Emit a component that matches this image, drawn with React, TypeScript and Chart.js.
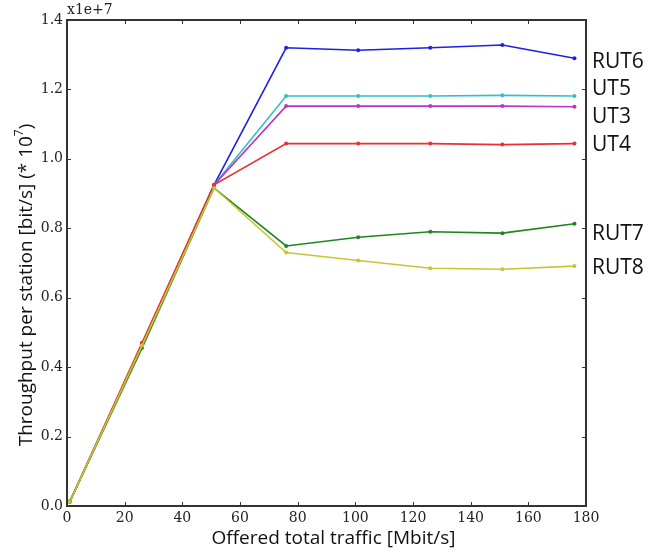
import React, { useEffect, useRef } from "react";
import { Chart, registerables } from "chart.js";
Chart.register(...registerables);

const offeredTraffic = [1, 26, 51, 76, 101, 126, 151, 176];
const seriesNames = ["RUT6", "UT5", "UT3", "UT4", "RUT7", "RUT8"];
const rut6 = [0.013, 0.465, 0.925, 1.32, 1.313, 1.32, 1.328, 1.29];
const ut5 = [0.013, 0.465, 0.925, 1.181, 1.181, 1.181, 1.183, 1.181];
const ut3 = [0.013, 0.465, 0.925, 1.152, 1.152, 1.152, 1.152, 1.15];
const ut4 = [0.013, 0.47, 0.925, 1.044, 1.044, 1.044, 1.041, 1.044];
const rut7 = [0.013, 0.455, 0.916, 0.749, 0.774, 0.79, 0.786, 0.813];
const rut8 = [0.013, 0.462, 0.916, 0.73, 0.707, 0.685, 0.682, 0.691];
const seriesValues = [rut6, ut5, ut3, ut4, rut7, rut8];
const seriesColors = ["#1f1fe6", "#33c0c0", "#c033c0", "#ec2f2f", "#1f861f", "#c6c633"];
const xTickValues = [0, 20, 40, 60, 80, 100, 120, 140, 160, 180];
const yTickValues = [0, 0.2, 0.4, 0.6, 0.8, 1.0, 1.2, 1.4];
// vertical anchor (in data units) of the right-hand series labels
const labelAnchors = [1.279, 1.201, 1.121, 1.04, 0.784, 0.686];

const SERIF = "'DejaVu Serif', serif";
const SANS = "'Open Sans', 'DejaVu Sans', sans-serif";

const framePlugin = {
  id: "mplFrame",
  afterDraw(chart: any) {
    const { ctx, chartArea: a, scales } = chart;
    const xs = scales.x;
    const ys = scales.y;
    ctx.save();
    ctx.strokeStyle = "#333";
    ctx.lineWidth = 1;
    const tl = 4;
    xTickValues.forEach((v) => {
      const px = Math.round(xs.getPixelForValue(v)) + 0.5;
      ctx.beginPath();
      ctx.moveTo(px, a.bottom);
      ctx.lineTo(px, a.bottom - tl);
      ctx.moveTo(px, a.top);
      ctx.lineTo(px, a.top + tl);
      ctx.stroke();
    });
    yTickValues.forEach((v) => {
      const py = Math.round(ys.getPixelForValue(v)) + 0.5;
      ctx.beginPath();
      ctx.moveTo(a.left, py);
      ctx.lineTo(a.left + tl, py);
      ctx.moveTo(a.right, py);
      ctx.lineTo(a.right - tl, py);
      ctx.stroke();
    });
    ctx.lineWidth = 2;
    ctx.strokeStyle = "#333";
    ctx.strokeRect(a.left, a.top, a.right - a.left, a.bottom - a.top);

    ctx.fillStyle = "#222";
    ctx.font = `14px ${SERIF}`;
    ctx.textAlign = "left";
    ctx.textBaseline = "middle";
    ctx.fillText("x1e+7", a.left, 10);

    ctx.font = `19px ${SANS}`;
    ctx.fillStyle = "#111";
    ctx.textAlign = "center";
    ctx.textBaseline = "middle";
    ctx.fillText("Offered total traffic [Mbit/s]", (a.left + a.right) / 2 + 7, 539);

    ctx.save();
    ctx.translate(27, (a.top + a.bottom) / 2 + 22);
    ctx.rotate(-Math.PI / 2);
    const main = "Throughput per station [bit/s] (* 10";
    ctx.font = `19px ${SANS}`;
    const w1 = ctx.measureText(main).width;
    ctx.font = `12px ${SANS}`;
    const w2 = ctx.measureText("7").width;
    ctx.font = `19px ${SANS}`;
    const w3 = ctx.measureText(")").width;
    const total = w1 + w2 + w3;
    const x0 = -total / 2;
    ctx.textAlign = "left";
    ctx.textBaseline = "middle";
    ctx.fillText(main, x0, 0);
    ctx.font = `12px ${SANS}`;
    ctx.fillText("7", x0 + w1, -7);
    ctx.font = `19px ${SANS}`;
    ctx.fillText(")", x0 + w1 + w2, 0);
    ctx.restore();

    ctx.font = `21px ${SANS}`;
    ctx.fillStyle = "#111";
    ctx.textAlign = "left";
    ctx.textBaseline = "middle";
    seriesNames.forEach((n, i) => {
      ctx.fillText(n, a.right + 6, ys.getPixelForValue(labelAnchors[i]));
    });
    ctx.restore();
  },
};

export default function App() {
  const ref = useRef<HTMLCanvasElement | null>(null);
  useEffect(() => {
    if (!ref.current) return;
    const datasets = seriesNames.map((name, i) => ({
      label: name,
      data: offeredTraffic.map((x, j) => ({ x, y: seriesValues[i][j] })),
      borderColor: seriesColors[i],
      backgroundColor: seriesColors[i],
      borderWidth: 1.6,
      pointRadius: 2,
      pointBorderWidth: 0,
      showLine: true,
      tension: 0,
      order: seriesNames.length - i,
    }));
    const chart = new Chart(ref.current, {
      type: "scatter",
      data: { datasets },
      plugins: [framePlugin],
      options: {
        responsive: false,
        animation: false,
        events: [],
        layout: { padding: { top: 20, right: 85, left: 0, bottom: 0 } },
        plugins: { legend: { display: false }, tooltip: { enabled: false } },
        scales: {
          x: {
            type: "linear",
            min: 0,
            max: 180,
            afterBuildTicks: (s: any) => {
              s.ticks = xTickValues.map((v) => ({ value: v }));
            },
            afterFit: (s: any) => {
              s.height = 52;
            },
            grid: { display: false, drawTicks: false },
            border: { display: false },
            ticks: {
              padding: 4,
              color: "#222",
              font: { family: SERIF, size: 14 },
              maxRotation: 0,
              autoSkip: false,
              callback: (v: any) => String(v),
            },
          },
          y: {
            type: "linear",
            min: 0,
            max: 1.4,
            afterBuildTicks: (s: any) => {
              s.ticks = yTickValues.map((v) => ({ value: v }));
            },
            afterFit: (s: any) => {
              s.width = 67;
            },
            grid: { display: false, drawTicks: false },
            border: { display: false },
            ticks: {
              padding: 4,
              color: "#222",
              font: { family: SERIF, size: 14 },
              autoSkip: false,
              callback: (v: any) => Number(v).toFixed(1),
            },
          },
        },
      },
    });
    return () => chart.destroy();
  }, []);
  return (
    <div style={{ position: "fixed", left: 0, top: 0, width: 671, height: 558, background: "#fff" }}>
      <canvas ref={ref} width={671} height={558} style={{ display: "block" }} />
    </div>
  );
}
